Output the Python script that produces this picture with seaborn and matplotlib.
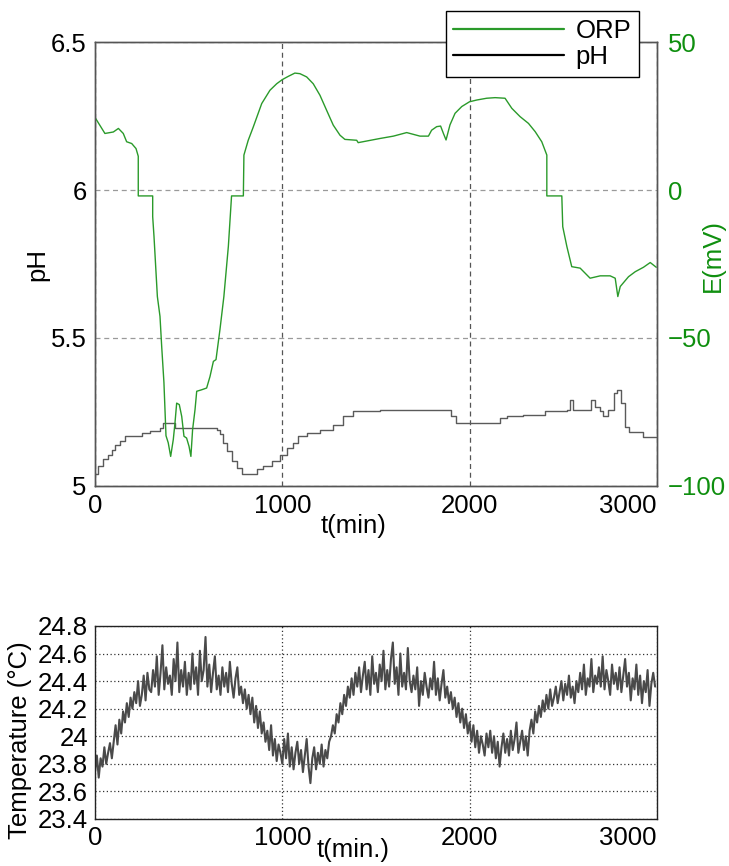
import numpy as np
import pandas as pd
import seaborn as sns
import matplotlib.pyplot as plt
from matplotlib.lines import Line2D

# ORP (mV)
orp_t = [0, 9, 53, 98, 125, 151, 169, 196, 219, 231, 231, 308, 308, 315, 333, 347,
         356, 368, 379, 391, 404, 418, 427, 436, 450, 463, 475, 489, 502, 512, 521,
         534, 543, 569, 596, 614, 632, 646, 667, 688, 712, 729, 792, 795, 818, 845,
         890, 934, 970, 1000, 1032, 1067, 1094, 1130, 1165, 1201, 1236, 1272, 1308,
         1334, 1397, 1405, 1521, 1593, 1664, 1735, 1780, 1797, 1824, 1845, 1860,
         1874, 1895, 1922, 1958, 1999, 2038, 2091, 2136, 2189, 2225, 2269, 2314,
         2350, 2385, 2412, 2412, 2492, 2497, 2519, 2545, 2590, 2643, 2697, 2750,
         2777, 2791, 2804, 2848, 2884, 2928, 2964, 2996]
orp_mv = [24.5, 23.6, 19.1, 19.6, 20.8, 19.1, 16.3, 15.7, 14.0, 11.4, -2.0, -2.0,
          -9.0, -15.7, -36.0, -42.7, -52.8, -65.0, -83.0, -85.4, -90.0, -84.3,
          -78.7, -72.0, -72.5, -76.5, -83.2, -83.8, -86.6, -90.0, -81.0, -74.2,
          -68.0, -67.5, -66.9, -63.0, -57.9, -57.3, -47.2, -36.0, -19.0, -2.0,
          -2.0, 11.8, 16.8, 21.3, 29.2, 33.7, 35.9, 37.3, 38.4, 39.5, 39.3, 38.2,
          35.9, 32.0, 27.0, 21.9, 18.5, 17.1, 16.8, 16.0, 17.4, 18.2, 19.4, 18.2,
          18.2, 20.2, 21.4, 21.6, 19.1, 16.9, 22.0, 25.9, 28.2, 29.8, 30.4, 31.0,
          31.2, 31.0, 27.6, 24.8, 22.5, 19.7, 16.3, 11.8, -2.0, -2.0, -12.4,
          -19.1, -25.9, -26.4, -29.8, -29.0, -29.0, -29.8, -36.0, -32.6, -29.3,
          -27.6, -26.1, -24.5, -26.1]

# pH
ph_t = [0, 18, 44, 71, 89, 107, 133, 160, 187, 249, 294, 347, 365, 427, 427, 525,
        649, 667, 685, 703, 729, 756, 783, 854, 863, 898, 943, 987, 1023, 1059,
        1085, 1130, 1201, 1272, 1325, 1379, 1521, 1744, 1895, 1898, 1927, 2136,
        2162, 2198, 2287, 2403, 2518, 2536, 2554, 2625, 2647, 2670, 2697, 2714,
        2741, 2768, 2789, 2806, 2830, 2848, 2919, 2928, 2996]
ph_val = [5.039, 5.067, 5.090, 5.106, 5.123, 5.140, 5.151, 5.168, 5.168, 5.179,
          5.185, 5.196, 5.213, 5.213, 5.196, 5.196, 5.190, 5.174, 5.146, 5.117,
          5.084, 5.061, 5.039, 5.039, 5.056, 5.067, 5.084, 5.106, 5.129, 5.146,
          5.168, 5.179, 5.190, 5.207, 5.235, 5.252, 5.258, 5.257, 5.257, 5.235,
          5.214, 5.214, 5.229, 5.235, 5.240, 5.252, 5.257, 5.291, 5.257, 5.257,
          5.291, 5.268, 5.252, 5.235, 5.257, 5.313, 5.325, 5.280, 5.201, 5.184,
          5.184, 5.167, 5.167]

# temperature readings every 10 min, lower panel
temp_t = list(range(0, 3000, 10))
temp_c = [
    23.74, 23.86, 23.70, 23.84, 23.78, 23.92, 23.80, 23.88, 23.95, 23.84,
    23.96, 24.08, 23.94, 24.12, 24.02, 24.18, 24.10, 24.24, 24.14, 24.28,
    24.20, 24.32, 24.24, 24.40, 24.22, 24.30, 24.44, 24.26, 24.46, 24.34,
    24.32, 24.48, 24.36, 24.58, 24.30, 24.46, 24.66, 24.34, 24.50, 24.38,
    24.44, 24.30, 24.56, 24.40, 24.68, 24.32, 24.48, 24.36, 24.54, 24.30,
    24.46, 24.34, 24.60, 24.38, 24.50, 24.30, 24.62, 24.40, 24.48, 24.72,
    24.36, 24.52, 24.32, 24.46, 24.58, 24.34, 24.44, 24.30, 24.50, 24.36,
    24.46, 24.32, 24.54, 24.38, 24.28, 24.42, 24.50, 24.30, 24.36, 24.24,
    24.34, 24.20, 24.30, 24.16, 24.28, 24.10, 24.22, 24.06, 24.18, 24.02,
    24.10, 23.96, 24.04, 23.90, 24.08, 23.86, 23.98, 23.82, 23.94, 23.88,
    23.80, 23.98, 23.84, 24.02, 23.78, 23.92, 23.76, 23.88, 23.96, 23.80,
    23.90, 23.74, 23.86, 23.98, 23.78, 23.66, 23.84, 23.92, 23.76, 23.88,
    23.80, 23.94, 23.78, 23.90, 23.84, 23.96, 24.00, 24.08, 24.02, 24.16,
    24.10, 24.24, 24.16, 24.30, 24.22, 24.36, 24.28, 24.42, 24.30, 24.46,
    24.36, 24.50, 24.32, 24.44, 24.54, 24.34, 24.48, 24.30, 24.58, 24.38,
    24.46, 24.32, 24.52, 24.40, 24.62, 24.34, 24.48, 24.36, 24.56, 24.68,
    24.38, 24.50, 24.30, 24.60, 24.36, 24.46, 24.34, 24.64, 24.40, 24.32,
    24.44, 24.34, 24.50, 24.22, 24.40, 24.30, 24.46, 24.36, 24.28, 24.42,
    24.34, 24.54, 24.30, 24.42, 24.26, 24.38, 24.48, 24.28, 24.36, 24.24,
    24.32, 24.20, 24.28, 24.14, 24.24, 24.10, 24.20, 24.06, 24.16, 24.02,
    24.10, 23.96, 24.08, 23.92, 24.04, 23.88, 24.00, 23.94, 23.86, 24.02,
    23.92, 24.04, 23.88, 24.00, 23.84, 23.96, 23.78, 23.92, 24.02, 23.88,
    23.98, 23.86, 24.04, 23.90, 23.98, 24.10, 23.88, 23.96, 24.04, 23.90,
    24.00, 23.86, 24.04, 24.12, 24.02, 24.18, 24.10, 24.22, 24.14, 24.26,
    24.18, 24.30, 24.20, 24.34, 24.22, 24.28, 24.36, 24.24, 24.32, 24.40,
    24.26, 24.38, 24.30, 24.44, 24.28, 24.36, 24.24, 24.40, 24.32, 24.46,
    24.34, 24.52, 24.30, 24.42, 24.36, 24.56, 24.32, 24.44, 24.38, 24.50,
    24.36, 24.58, 24.34, 24.48, 24.40, 24.30, 24.52, 24.38, 24.46, 24.34,
    24.50, 24.32, 24.44, 24.56, 24.36, 24.46, 24.26, 24.42, 24.34, 24.52,
    24.30, 24.44, 24.24, 24.40, 24.32, 24.48, 24.22, 24.38, 24.46, 24.36,
]

ph_ticks = [5, 5.5, 6, 6.5]
orp_ticks = [-100, -50, 0, 50]
temp_ticks = [23.4, 23.6, 23.8, 24.0, 24.2, 24.4, 24.6, 24.8]
t_ticks = [0, 1000, 2000, 3000]

sns.set_style('white')
plt.rcParams['font.family'] = ['Liberation Sans', 'DejaVu Sans']
plt.rcParams['axes.unicode_minus'] = True
plt.rcParams['text.color'] = 'black'
plt.rcParams['axes.labelcolor'] = 'black'
plt.rcParams['xtick.color'] = 'black'
plt.rcParams['ytick.color'] = 'black'

GREEN_LINE = '#2a9a2a'
GREEN_TEXT = '#0f8f0f'
FS = 18.5

fig = plt.figure(figsize=(7.29, 8.66), dpi=100)
ax = fig.add_axes([0.1303, 0.4388, 0.7709, 0.5127])
ax2 = ax.twinx()

df_ph = pd.DataFrame({'t': ph_t, 'pH': ph_val})
df_orp = pd.DataFrame({'t': orp_t, 'E': orp_mv})
sns.lineplot(data=df_ph, x='t', y='pH', ax=ax, color='#5a5a5a', lw=1.0,
             estimator=None, sort=False, drawstyle='steps-post')
sns.lineplot(data=df_orp, x='t', y='E', ax=ax2, color=GREEN_LINE, lw=1.0,
             estimator=None, sort=False)

ax.set_xlim(0, 3000)
ax.set_ylim(5, 6.5)
ax2.set_ylim(-100, 50)
ax.set_xticks(t_ticks)
ax.set_yticks(ph_ticks)
ax.set_yticklabels(['5', '5.5', '6', '6.5'])
ax2.set_yticks(orp_ticks)
ax2.set_yticklabels(['\u2212100', '\u221250', '0', '50'])
ax.grid(True, axis='x', ls=(0, (4, 3)), color='#555555', lw=0.9)
ax.grid(True, axis='y', ls=(0, (4, 3)), color='#9a9a9a', lw=0.9)
ax.tick_params(labelsize=FS, length=0, pad=6)
ax2.tick_params(labelsize=FS, length=0, pad=8, labelcolor=GREEN_TEXT)
xl = ax.get_xticklabels()
xl[-1].set_ha('right')
ax.set_xlabel('t(min)', fontsize=FS)
ax.xaxis.set_label_coords(0.46, -0.062)
ax.set_ylabel('pH', fontsize=FS)
ax.yaxis.set_label_coords(-0.082, 0.5)
ax2.set_ylabel('E(mV)', fontsize=FS, color=GREEN_TEXT)
ax2.yaxis.set_label_coords(1.078, 0.52)
for a in (ax, ax2):
    for s in a.spines.values():
        s.set_color('#555555')
        s.set_linewidth(1.0)

handles = [Line2D([], [], color=GREEN_LINE, lw=1.6),
           Line2D([], [], color='black', lw=1.6)]
leg = fig.legend(handles, ['ORP', 'pH'], loc='upper right',
                 bbox_to_anchor=(639 / 729, 1 - 11 / 866), fontsize=FS,
                 frameon=True, fancybox=False, handlelength=4.3,
                 borderpad=0.3, labelspacing=0.1, handletextpad=0.45,
                 borderaxespad=0)
leg.get_frame().set_edgecolor('black')
leg.get_frame().set_linewidth(1.0)
leg.get_frame().set_alpha(1)

# lower panel: temperature
bx = fig.add_axes([0.1303, 0.0543, 0.7709, 0.2229])
df_temp = pd.DataFrame({'t': temp_t, 'T': temp_c})
sns.lineplot(data=df_temp, x='t', y='T', ax=bx, color='#4a4a4a', lw=1.5,
             estimator=None, sort=False)
bx.set_xlim(0, 3000)
bx.set_ylim(23.4, 24.8)
bx.set_xticks(t_ticks)
bx.set_yticks(temp_ticks)
bx.set_yticklabels(['23.4', '23.6', '23.8', '24', '24.2', '24.4', '24.6', '24.8'])
bx.grid(True, ls=(0, (1, 2)), color='#333333', lw=0.9)
bx.tick_params(labelsize=FS, direction='in', length=4, pad=5)
bl = bx.get_xticklabels()
bl[-1].set_ha('right')
bx.set_xlabel('t(min.)', fontsize=FS)
bx.xaxis.set_label_coords(0.46, -0.1)
bx.set_ylabel('Temperature (\u00b0C)', fontsize=FS)
bx.yaxis.set_label_coords(-0.112, 0.41)
for s in bx.spines.values():
    s.set_color('#222222')
    s.set_linewidth(1.0)

fig.savefig('out.png', dpi=100)
